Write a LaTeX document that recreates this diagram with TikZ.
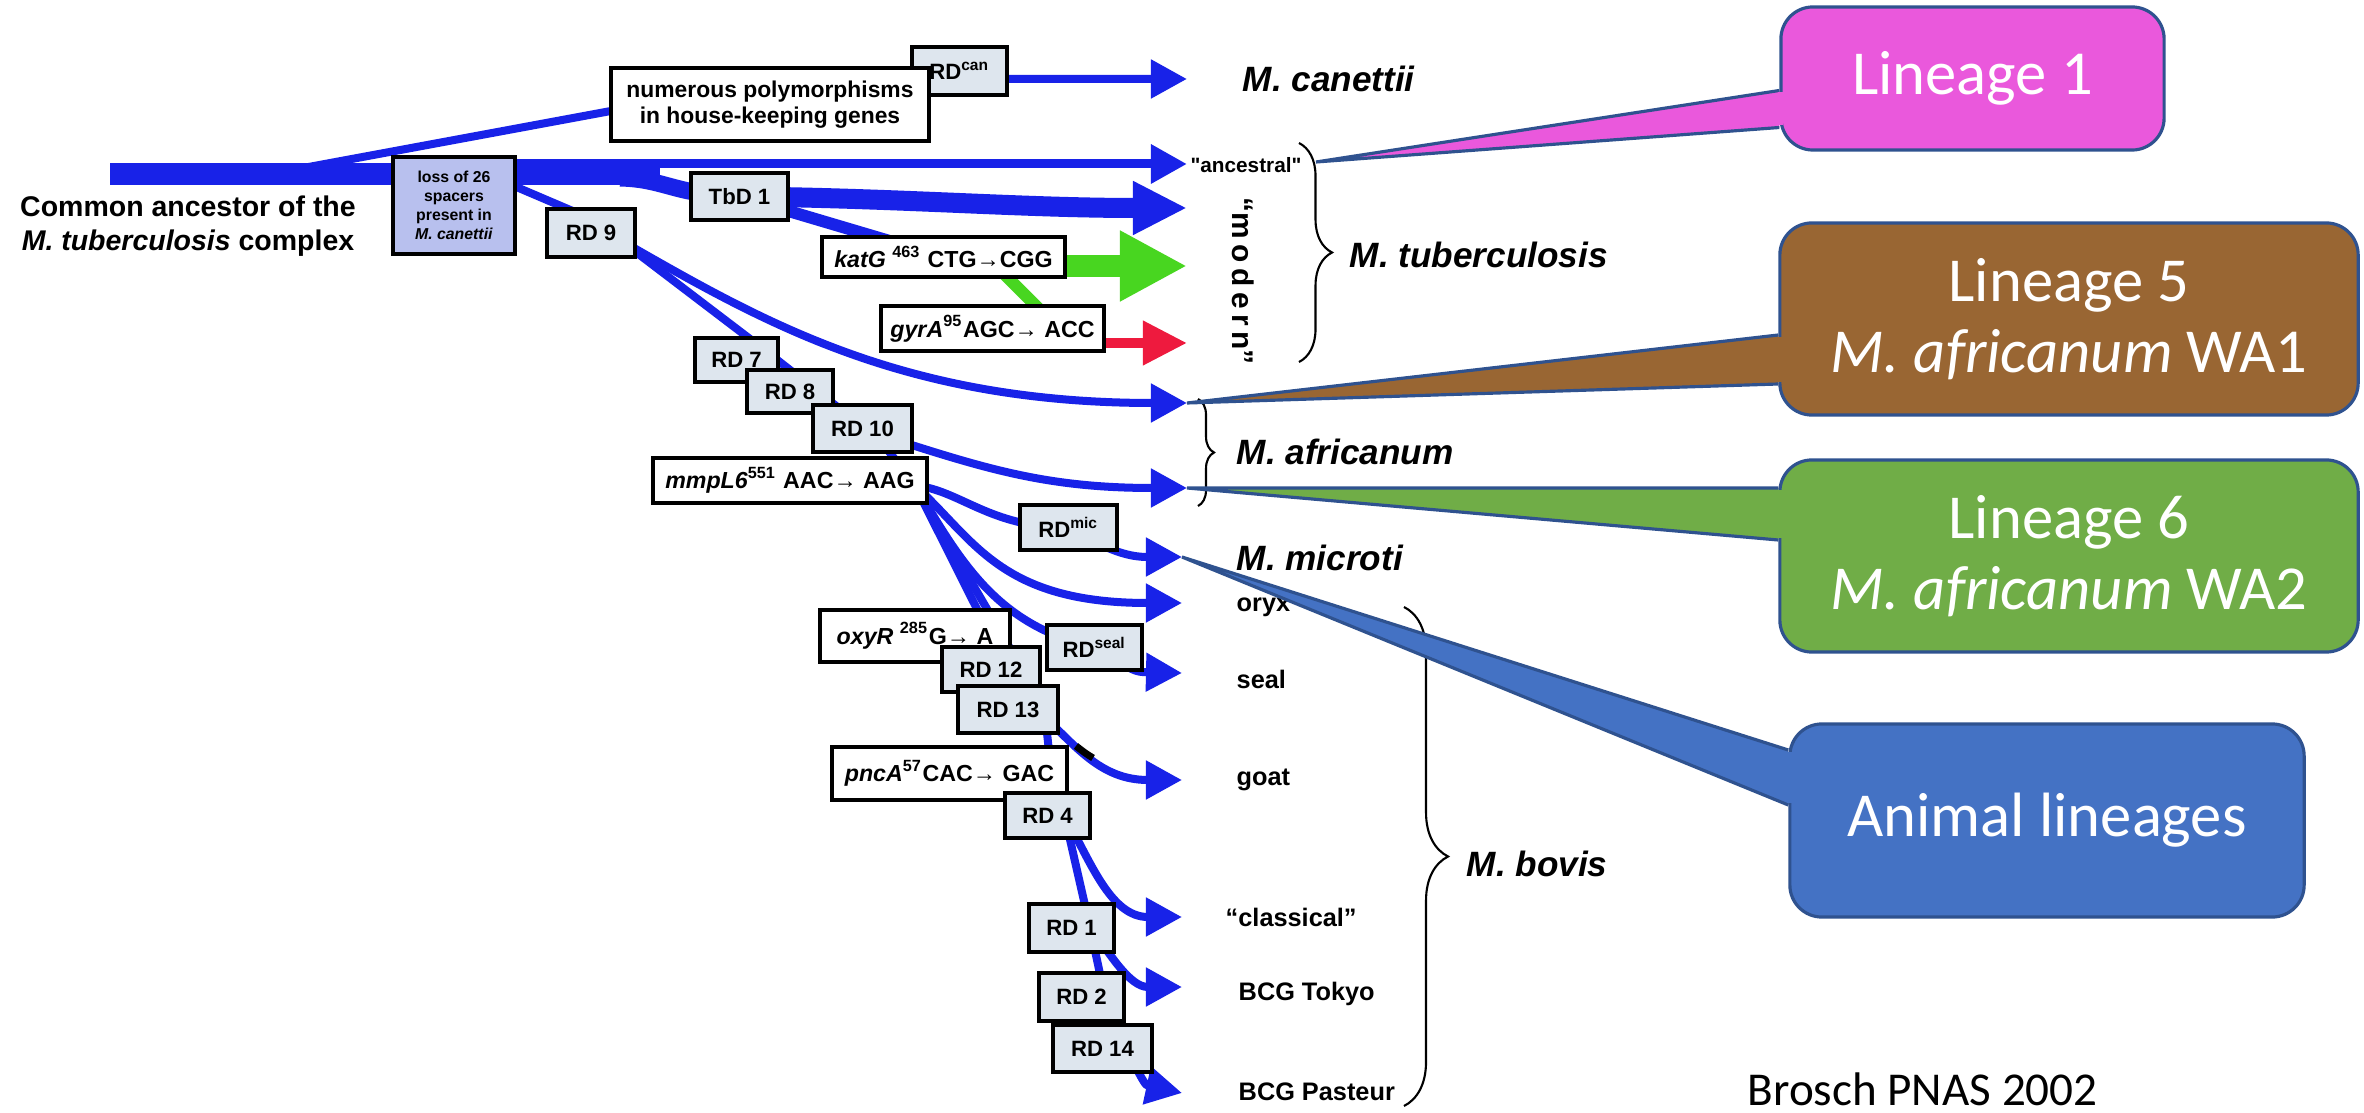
\documentclass[tikz,border=0pt]{standalone}
\usepackage{fontspec}
\setmainfont{Liberation Sans}
\newfontfamily\calibri{Carlito}
\usepackage{tikz}
\usetikzlibrary{arrows.meta, decorations.pathreplacing}
\definecolor{treeblue}{RGB}{24,34,232}
\definecolor{katgreen}{RGB}{72,214,32}
\definecolor{gyrred}{RGB}{238,26,62}
\definecolor{rdfill}{RGB}{222,230,238}
\definecolor{lossfill}{RGB}{184,192,238}
\definecolor{linpink}{RGB}{234,88,220}
\definecolor{linbrown}{RGB}{153,102,51}
\definecolor{lingreen}{RGB}{112,173,71}
\definecolor{linblue}{RGB}{68,114,196}
\definecolor{linedge}{RGB}{47,82,143}
\pgfdeclarelayer{paper}
\pgfdeclarelayer{tree}
\pgfsetlayers{paper,tree,main}
\tikzset{
	branch/.style={draw=treeblue, line width=0.8mm},
	leaf/.style={branch, -{Triangle[length=3.6mm, width=3.7mm]}},
	rdbox/.style={draw, line width=1.2pt, fill=rdfill, inner sep=0pt, font=\bfseries\fontsize{6.3}{7.5}\selectfont},
	mutbox/.style={draw, line width=1.2pt, fill=white, inner sep=0pt, font=\bfseries\fontsize{6.6}{7.5}\selectfont},
	taxon/.style={anchor=west, inner sep=0pt, font=\bfseries\itshape\fontsize{10}{12}\selectfont},
	strain/.style={anchor=west, inner sep=0pt, font=\bfseries\fontsize{7.2}{8.6}\selectfont},
	taxbrace/.style={decorate, decoration={brace, amplitude=#1}, line width=0.6pt},
	lineage/.style={draw=linedge, line width=0.9pt, rounded corners=3.2mm, text=white, align=center, inner sep=0pt, font=\calibri\fontsize{17.8}{20.2}\selectfont},
	calloutwedge/.style={draw=linedge, line width=0.9pt}
}
\begin{document}
\begin{tikzpicture}[x=0.01cm, y=-0.01cm]
	\useasboundingbox (0,0) rectangle (2364,1113);
	\begin{pgfonlayer}{paper}
		\fill[white] (0,0) rectangle (2364,1113);
	\end{pgfonlayer}

	% boxes on the tree
	\node[align=center, inner sep=0pt, font=\bfseries\fontsize{8.1}{9.7}\selectfont] (ancestor) at (188,226) {Common ancestor of the\\\textit{M. tuberculosis} complex};
	\node[mutbox, fill=lossfill, align=center, minimum width=1.22cm, minimum height=0.97cm, font=\bfseries\fontsize{4.5}{5.4}\selectfont] (loss) at (454,205.5) {loss of 26\\spacers\\present in\\\textit{M. canettii}};
	\node[rdbox, minimum width=0.95cm, minimum height=0.48cm] (rdcan) at (959.5,71) {RD\textsuperscript{can}};
	\node[mutbox, align=center, minimum width=3.18cm, minimum height=0.73cm, font=\bfseries\fontsize{6.5}{7.4}\selectfont] (numer) at (770,104.5) {numerous polymorphisms\\in house-keeping genes};
	\node[rdbox, minimum width=0.88cm, minimum height=0.48cm] (rd9) at (591,233) {RD 9};
	\node[rdbox, minimum width=0.97cm, minimum height=0.47cm] (tbd1) at (739.5,196.5) {TbD 1};
	\node[mutbox, minimum width=2.43cm, minimum height=0.40cm] (katg) at (943.5,257) {\textit{katG} \textsuperscript{463} CTG→CGG};
	\node[mutbox, minimum width=2.23cm, minimum height=0.45cm] (gyra) at (992.5,328.5) {\textit{gyrA}\textsuperscript{95}AGC→ ACC};
	\node[rdbox, minimum width=0.83cm, minimum height=0.44cm] (rd7) at (736.5,360) {RD 7};
	\node[rdbox, minimum width=0.86cm, minimum height=0.43cm] (rd8) at (790,391.5) {RD 8};
	\node[rdbox, minimum width=0.99cm, minimum height=0.47cm] (rd10) at (862.5,428.5) {RD 10};
	\node[mutbox, minimum width=2.74cm, minimum height=0.45cm] (mmpl) at (790,480.5) {\textit{mmpL6}\textsuperscript{551} AAC→ AAG};
	\node[rdbox, minimum width=0.97cm, minimum height=0.45cm] (rdmic) at (1068.5,527.5) {RD\textsuperscript{mic}};
	\node[mutbox, minimum width=1.90cm, minimum height=0.52cm] (oxyr) at (915,636) {\textit{oxyR} \textsuperscript{285}G→ A};
	\node[rdbox, minimum width=0.98cm, minimum height=0.45cm] (rd12) at (991,669.5) {RD 12};
	\node[rdbox, minimum width=1.00cm, minimum height=0.47cm] (rd13) at (1008,709.5) {RD 13};
	\node[rdbox, minimum width=0.95cm, minimum height=0.45cm] (rdseal) at (1094.5,647.5) {RD\textsuperscript{seal}};
	\node[mutbox, minimum width=2.35cm, minimum height=0.53cm] (pnca) at (949.5,773.5) {\textit{pncA}\textsuperscript{57}CAC→ GAC};
	\node[rdbox, minimum width=0.85cm, minimum height=0.45cm] (rd4) at (1047.5,815.5) {RD 4};
	\node[rdbox, minimum width=0.85cm, minimum height=0.48cm] (rd1) at (1071.5,928) {RD 1};
	\node[rdbox, minimum width=0.85cm, minimum height=0.48cm] (rd2) at (1081.5,997) {RD 2};
	\node[rdbox, minimum width=0.99cm, minimum height=0.47cm] (rd14) at (1102.5,1048.5) {RD 14};

	% arrow tips
	\coordinate (tcan) at (1187,79);
	\coordinate (tanc) at (1187,164);
	\coordinate (ttbd) at (1187,208);
	\coordinate (tkat) at (1187,266);
	\coordinate (tgyr) at (1187,343);
	\coordinate (taf1) at (1187,403);
	\coordinate (taf2) at (1187,488);
	\coordinate (tmic) at (1182,557);
	\coordinate (tory) at (1182,603);
	\coordinate (tsea) at (1182,673);
	\coordinate (tgoa) at (1182,780);
	\coordinate (tcla) at (1182,917);
	\coordinate (ttok) at (1182,987);
	\coordinate (tpas) at (1182,1093);

	% forks and points inside the boxes
	\coordinate (root) at (110,174);
	\coordinate (trunkend) at (660,174);
	\coordinate (canfork) at (260,176);
	\coordinate (rd9fork) at (500,180);
	\coordinate (tbdfork) at (620,178);
	\coordinate (p9) at ([shift={(29,7)}]rd9.center);
	\coordinate (p7) at ([shift={(28,-10)}]rd7.center);
	\coordinate (p8) at ([shift={(25,-2)}]rd8.center);
	\coordinate (p10) at ([shift={(18,12)}]rd10.center);
	\coordinate (mfork) at ([shift={(125,5)}]mmpl.center);
	\coordinate (q12) at ([shift={(29,-4)}]rd12.center);
	\coordinate (q13) at ([shift={(37,5)}]rd13.center);
	\coordinate (q57) at ([shift={(102,1)}]pnca.center);
	\coordinate (q4) at ([shift={(17,0)}]rd4.center);
	\coordinate (q1) at ([shift={(18,-3)}]rd1.center);
	\coordinate (q2) at ([shift={(23,-2)}]rd2.center);
	\coordinate (q14) at ([shift={(22,-3)}]rd14.center);

	\begin{pgfonlayer}{tree}
		\draw[branch, line width=2.2mm] (root) -- (trunkend);
		\draw[leaf, line width=0.9mm] (loss.east |- tanc) -- (tanc);
		\draw[branch] (canfork) -- ([shift={(29,1.5)}]numer.west);
		\draw[leaf] (numer.center) -- (rdcan.center |- tcan) -- (tcan);
		\draw[branch, line width=1.7mm] (tbdfork) .. controls (665,179) and (675,195) .. (tbd1.center);
		\draw[branch, line width=2mm, -{Triangle[length=5.4mm, width=5mm]}] (tbd1.center) .. controls (900,198) and (1020,208) .. (ttbd);
		\draw[branch, line width=1.2mm] (tbd1.center) -- (katg.center);
		\draw[katgreen, line width=2.2mm, -{Triangle[length=6.7mm, width=6.6mm]}] (katg.east |- tkat) -- (tkat);
		\draw[katgreen, line width=1.2mm] ([xshift=4.35mm]katg.center) -- ([xshift=6.6mm]gyra.center);
		\draw[gyrred, line width=1mm, -{Triangle[length=4.4mm, width=4.2mm]}] (gyra.east |- tgyr) -- (tgyr);
		\draw[branch] (rd9fork) -- ([shift={(-16,-21)}]rd9.center);
		\draw[branch] (p9) -- (p7) -- (p8) -- (p10) -- (mfork);
		\draw[leaf] (p9) .. controls (760,320) and (900,403) .. (taf1);
		\draw[leaf] ([shift={(35,12)}]rd10.center) .. controls (990,470) and (1050,488) .. (taf2);
		\draw[branch] (mfork) .. controls (960,490) and (990,528) .. (rdmic.center);
		\draw[leaf] (rdmic.center) .. controls (1110,552) and (1130,557) .. (tmic);
		\draw[leaf] (mfork) .. controls (975,540) and (1000,603) .. (tory);
		\draw[branch] (mfork) .. controls (960,560) and (995,625) .. (rdseal.center);
		\draw[leaf] (rdseal.center) .. controls (1135,672) .. (tsea);
		\draw[branch] (mfork) -- ([shift={(70,-11)}]oxyr.center);
		\draw[branch] (mfork) -- (q12) -- (q13) -- (q57) -- (q4) -- (q1) -- (q2) -- (q14);
		\draw[leaf] (q14) .. controls (1145,1085) .. (tpas);
		\draw[leaf] ([shift={(32,3)}]rd13.center) .. controls (1075,745) and (1100,780) .. (tgoa);
		\draw[black, line width=0.7mm] (1076,746) .. controls (1085,753) .. (1093,758);
		\draw[leaf] (q4) .. controls (1090,860) and (1110,917) .. (tcla);
		\draw[leaf] (q1) .. controls (1110,955) and (1130,987) .. (ttok);
	\end{pgfonlayer}

	% taxa
	\node[taxon] (canettii) at (1242,79) {M. canettii};
	\node[inner sep=0pt, font=\bfseries\fontsize{5.9}{7}\selectfont] (ancestral) at (1246,165) {\textquotedbl ancestral\textquotedbl};
	\node[rotate=-90, inner sep=0pt, font=\bfseries\fontsize{8.5}{10}\selectfont] (modern) at (1243,281) {“m\hspace{1.6pt}o\hspace{1.6pt}d\hspace{1.6pt}e\hspace{1.6pt}r\hspace{1.6pt}n”};
	\node[taxon] (tuberc) at (1349,255) {M. tuberculosis};
	\node[taxon] (africanum) at (1236,452) {M. africanum};
	\node[taxon] (microti) at (1236,558) {M. microti};
	\node[strain] (oryx) at (1236,607) {oryx};
	\node[strain] (seal) at (1236,679) {seal};
	\node[strain] (goat) at (1236,780) {goat};
	\node[strain] (classical) at (1225,917) {“classical”};
	\node[strain] (tokyo) at (1238,994) {BCG Tokyo};
	\node[strain] (pasteur) at (1238,1092) {BCG Pasteur};
	\node[taxon] (bovis) at (1466,864) {M. bovis};
	\draw[taxbrace=3.3mm] (1299,143) -- (1299,362);
	\draw[taxbrace=1.6mm] (1198,399) -- (1198,506);
	\draw[taxbrace=4.4mm] (1404,607) -- (1404,1106);

	% lineage call-outs
	\coordinate (tubtop) at (1316,162);
	\node[lineage, fill=linpink, minimum width=3.83cm, minimum height=1.43cm] (lin1) at (1972.5,78.5) {Lineage 1};
	\filldraw[calloutwedge, fill=linpink] ([shift={(0,12)}]lin1.west) -- (tubtop) -- ([shift={(0,49)}]lin1.west);
	\fill[linpink] ([shift={(-1.5,14)}]lin1.west) rectangle ([shift={(4,47)}]lin1.west);

	\node[lineage, fill=linbrown, minimum width=5.78cm, minimum height=1.92cm] (lin5) at (2069,319) {Lineage 5\\\textit{M. africanum} WA1};
	\filldraw[calloutwedge, fill=linbrown] ([shift={(0,16)}]lin5.west) -- (taf1) -- ([shift={(0,65)}]lin5.west);
	\fill[linbrown] ([shift={(-1.5,18)}]lin5.west) rectangle ([shift={(4,63)}]lin5.west);

	\node[lineage, fill=lingreen, minimum width=5.78cm, minimum height=1.92cm] (lin6) at (2069,556) {Lineage 6\\\textit{M. africanum} WA2};
	\filldraw[calloutwedge, fill=lingreen] ([shift={(0,-68)}]lin6.west) -- (taf2) -- ([shift={(0,-16)}]lin6.west);
	\fill[lingreen] ([shift={(-1.5,-66)}]lin6.west) rectangle ([shift={(4,-18)}]lin6.west);

	\node[lineage, fill=linblue, minimum width=5.14cm, minimum height=1.93cm] (lin0) at (2047,820.5) {Animal lineages};
	\filldraw[calloutwedge, fill=linblue] ([shift={(0,-70.5)}]lin0.west) -- (tmic) -- ([shift={(0,-15.5)}]lin0.west);
	\fill[linblue] ([shift={(-1.5,-68.5)}]lin0.west) rectangle ([shift={(4,-17.5)}]lin0.west);

	\node[anchor=base west, inner sep=0pt, font=\calibri\fontsize{13.4}{16}\selectfont] (brosch) at (1747,1105) {Brosch PNAS 2002};
\end{tikzpicture}
\end{document}
